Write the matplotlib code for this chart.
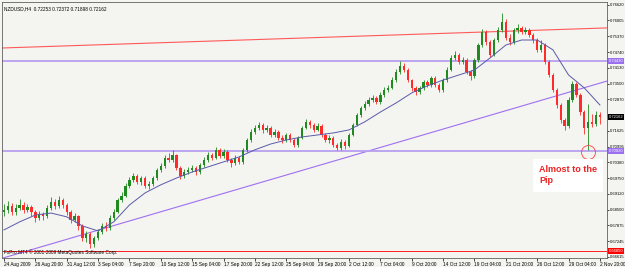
# NZDUSD H4 candlestick chart (MetaTrader style)
import numpy as np
import matplotlib.pyplot as plt

# prices in pips (1e-4)
closes = [6848, 6864, 6840, 6856, 6868, 6848, 6860, 6840, 6817, 6832, 6824,
          6856, 6880, 6864, 6888, 6868, 6840, 6809, 6824, 6785, 6737,
          6753, 6713, 6737, 6761, 6785, 6777, 6817, 6840, 6888, 6904,
          6944, 6967, 6983, 6959, 6975, 6944, 6952, 6975, 7007, 7023,
          7055, 7047, 7067, 7015, 6983, 6999, 7007, 7015, 6999, 7027,
          7047, 7067, 7055, 7087, 7063, 7079, 7047, 7035, 7055, 7039,
          7087, 7126, 7158, 7174, 7186, 7166, 7174, 7146, 7158, 7134,
          7126, 7146, 7126, 7106, 7134, 7174, 7198, 7186, 7166, 7182,
          7146, 7126, 7134, 7106, 7094, 7118, 7102, 7146, 7186, 7225,
          7253, 7269, 7285, 7293, 7277, 7305, 7325, 7333, 7364, 7396,
          7420, 7404, 7364, 7333, 7317, 7333, 7356, 7345, 7372, 7345,
          7325, 7364, 7404, 7452, 7464, 7436, 7444, 7396, 7380, 7444,
          7503, 7555, 7515, 7464, 7523, 7563, 7595, 7531, 7515, 7563,
          7571, 7555, 7563, 7543, 7523, 7484, 7503, 7436, 7384, 7325,
          7265, 7206, 7182, 7285, 7349, 7305, 7237, 7174, 7198, 7190, 7225, 7216]
highs = [6870, 6885, 6876, 6870, 6890, 6878, 6872, 6868, 6848, 6845, 6842,
         6866, 6898, 6890, 6902, 6895, 6875, 6848, 6838, 6830, 6792,
         6765, 6760, 6745, 6772, 6795, 6800, 6828, 6852, 6895, 6918,
         6955, 6978, 6995, 6990, 6985, 6982, 6965, 6985, 7015, 7035,
         7066, 7075, 7087, 7072, 7022, 7010, 7020, 7025, 7022, 7035,
         7058, 7078, 7075, 7098, 7095, 7090, 7085, 7055, 7065, 7062,
         7095, 7135, 7168, 7185, 7198, 7195, 7185, 7180, 7168, 7165,
         7145, 7155, 7152, 7132, 7142, 7182, 7210, 7205, 7192, 7192,
         7188, 7152, 7145, 7140, 7115, 7128, 7125, 7155, 7195, 7235,
         7262, 7280, 7296, 7305, 7300, 7315, 7336, 7345, 7375, 7408,
         7440, 7430, 7410, 7370, 7340, 7342, 7366, 7365, 7382, 7380,
         7352, 7372, 7415, 7462, 7478, 7470, 7456, 7450, 7404, 7452,
         7512, 7565, 7562, 7522, 7532, 7575, 7630, 7605, 7545, 7572,
         7585, 7580, 7575, 7570, 7552, 7530, 7523, 7510, 7442, 7392,
         7332, 7272, 7215, 7295, 7360, 7355, 7312, 7245, 7270, 7230, 7240, 7237]
lows = [6825, 6838, 6828, 6830, 6850, 6835, 6840, 6826, 6800, 6808, 6810,
        6818, 6850, 6852, 6858, 6855, 6830, 6795, 6800, 6770, 6725,
        6720, 6697, 6700, 6728, 6752, 6765, 6770, 6808, 6835, 6878,
        6898, 6935, 6958, 6950, 6948, 6935, 6930, 6945, 6968, 7000,
        7015, 7038, 7040, 7005, 6972, 6975, 6990, 6998, 6988, 6992,
        7020, 7040, 7045, 7050, 7055, 7055, 7040, 7020, 7028, 7030,
        7032, 7080, 7118, 7150, 7165, 7155, 7158, 7138, 7138, 7125,
        7115, 7118, 7118, 7098, 7100, 7128, 7168, 7175, 7158, 7160,
        7138, 7118, 7115, 7098, 7085, 7088, 7092, 7098, 7140, 7180,
        7218, 7245, 7260, 7275, 7268, 7270, 7298, 7318, 7328, 7358,
        7390, 7395, 7355, 7322, 7305, 7310, 7326, 7335, 7338, 7336,
        7315, 7318, 7356, 7398, 7444, 7428, 7428, 7388, 7365, 7372,
        7436, 7495, 7505, 7455, 7458, 7515, 7555, 7522, 7505, 7508,
        7552, 7545, 7545, 7535, 7512, 7475, 7476, 7428, 7375, 7315,
        7255, 7195, 7166, 7175, 7278, 7295, 7225, 7150, 7087, 7178, 7180, 7190]
first_open = 6840

# moving average, read every 4 bars
ma_vals = [6769, 6801, 6828, 6836, 6821, 6785, 6765, 6801, 6868, 6916,
           6948, 6975, 6999, 7019, 7039, 7059, 7087, 7110, 7126, 7138,
           7146, 7154, 7166, 7198, 7237, 7273, 7313, 7341, 7364, 7384,
           7404, 7452, 7503, 7523, 7523, 7484, 7384, 7333, 7265]

date_labels = ["24 Aug 2009", "26 Aug 20:00", "31 Aug 12:00", "3 Sep 04:00",
               "7 Sep 20:00", "10 Sep 12:00", "15 Sep 04:00", "17 Sep 20:00",
               "22 Sep 12:00", "25 Sep 04:00", "29 Sep 20:00", "2 Oct 12:00",
               "7 Oct 04:00", "9 Oct 20:00", "14 Oct 12:00", "19 Oct 04:00",
               "21 Oct 20:00", "26 Oct 12:00", "29 Oct 04:00", "2 Nov 20:00"]
price_labels = ["0.76620", "0.76005", "0.75370", "0.74740", "0.74130", "0.73500",
                "0.72870", "0.72250", "0.71625", "0.70995", "0.70380", "0.69750",
                "0.69120", "0.68500", "0.67875", "0.67245", "0.66615"]

# support / resistance levels
hline_top = 0.7440
hline_low = 0.7082
hline_red = 0.6685
red_trend = (0.7491, 0.7571)
purple_trend = (0.6654, 0.7360)

c = np.array(closes) / 10000
h = np.array(highs) / 10000
l = np.array(lows) / 10000
o = np.r_[first_open / 10000, c[:-1]]
n = len(c)
x = np.arange(n)

small = dict(family='Liberation Sans', fontsize=3.4)
tiny = dict(family='Liberation Sans', fontsize=3.0)
bg = '#f4f4f0'
fig = plt.figure(figsize=(6.25, 2.67), dpi=100, facecolor=bg)
ax = fig.add_axes([2/625, 9/267, 605/625, 256/267], facecolor=bg)

up = c >= o
col = np.where(up, '#1f8a1f', '#ff2a2a')
ax.vlines(x, l, h, colors=col, lw=0.6, zorder=3)
ax.bar(x, np.abs(c - o) + 0.00005, bottom=np.minimum(o, c), width=0.6,
       color=col, lw=0, zorder=3)

ax.plot(np.arange(0, n, 4), np.array(ma_vals) / 10000, color='#5a5aa8', lw=0.7, zorder=4)

ax.plot([-1, 153.8], red_trend, color='#ff5a5a', lw=0.8, zorder=2)
ax.plot([-1, 153.8], purple_trend, color='#a070f0', lw=0.8, zorder=2)
ax.axhline(hline_top, color='#b8a0f0', lw=1.3, zorder=2)
ax.axhline(hline_low, color='#b8a0f0', lw=1.3, zorder=2)
ax.axhline(hline_red, color='#ff2020', lw=0.7, zorder=2)

ax.set_xlim(-0.5, 153.8)
ax.set_ylim(0.66575, 0.76739)

# price axis on the right
ax.yaxis.tick_right()
ax.set_yticks([float(s) for s in price_labels])
ax.set_yticklabels(price_labels, **tiny)
ax.tick_params(axis='y', length=1.5, width=0.5, pad=0.6)

ax.set_xticks(np.arange(0, n, 8))
ax.set_xticklabels(date_labels, ha='left', **small)
ax.tick_params(axis='x', length=2, width=0.5, pad=1)

for sp in ax.spines.values():
    sp.set_linewidth(0.6)
    sp.set_color('#606060')

# price tags
def tag(y, txt, fc):
    ax.text(1.003, y, txt, transform=ax.get_yaxis_transform(), color='white',
            va='center', ha='left', zorder=10, clip_on=False,
            bbox=dict(boxstyle='square,pad=0.2', fc=fc, ec='none'), **tiny)

tag(hline_top, "0.74430", '#9a70f0')
tag(0.72162, "0.72162", 'black')
tag(hline_low, "0.70820", '#9a70f0')
tag(hline_red, "0.66850", '#ff0000')

ax.text(0.003, 0.985, "NZDUSD,H4  0.72253 0.72372 0.71898 0.72162",
        transform=ax.transAxes, va='top', ha='left', **small)
ax.text(0.003, 0.012, "FxPro MT4 \u00a9 2001-2009 MetaQuotes Software Corp.",
        transform=ax.transAxes, va='bottom', ha='left', zorder=6, **small)

# annotation
ax.plot(149, 0.7080, 'o', ms=10, mfc='none', mec='#ff4040', mew=0.6, zorder=6)
ax.text(136.5, 0.7025, "Almost to the\nPip", fontsize=6.5, fontweight='bold',
        family='Liberation Sans', color='#ee2222', va='top', ha='left', zorder=7,
        linespacing=1.25,
        bbox=dict(boxstyle='square,pad=0.7', fc='white', ec='none'))

fig.savefig('out.png', dpi=100, facecolor=bg)
